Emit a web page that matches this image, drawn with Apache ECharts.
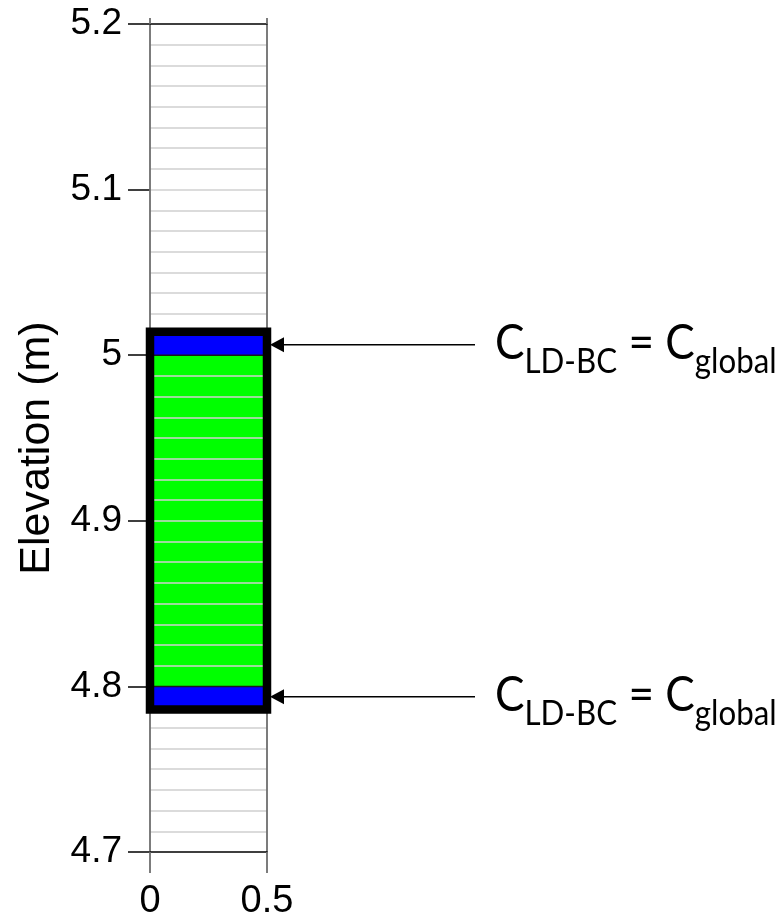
<!DOCTYPE html>
<html>
<head>
<meta charset="utf-8">
<script src="https://cdn.jsdelivr.net/npm/echarts@6/dist/echarts.min.js"></script>
<style>
html,body{margin:0;padding:0;background:#fff;}
#chart{width:781px;height:921px;}
</style>
</head>
<body>
<div id="chart"></div>
<script>
// ---- data ----
const yRange = [4.7, 5.2];
const yMajorStep = 0.1;
const meshPerMajor = 8;            // mesh cells of 0.0125 m
const xTicks = [0, 0.5];
const yAxisName = 'Elevation (m)';
// [x0, x1, yBottom, yTop]
const greenZone = [[0, 0.5, 4.8, 5.0]];
const blueCells = [[0, 0.5, 5.0, 5.0125], [0, 0.5, 4.7875, 4.8]];
const zoneBorder = [[0, 0.5, 4.786, 5.0142]];
// annotation text pieces
const annoMain = 'C';
const annoSubLeft = 'LD-BC';
const annoSubRight = 'global';

const chart = echarts.init(document.getElementById('chart'), null, {renderer: 'canvas'});

function rectRender(fill, stroke, lw) {
  return function (params, api) {
    const p0 = api.coord([api.value(0), api.value(3)]);
    const p1 = api.coord([api.value(1), api.value(2)]);
    return {
      type: 'rect',
      shape: {x: p0[0], y: p0[1], width: p1[0] - p0[0], height: p1[1] - p0[1]},
      style: {fill: fill, stroke: stroke, lineWidth: lw}
    };
  };
}

const option = {
  backgroundColor: '#fff',
  animation: false,
  grid: {left: 150, top: 24, width: 117, height: 833, containLabel: false},
  xAxis: [{
    type: 'value', min: xTicks[0], max: xTicks[xTicks.length - 1],
    interval: xTicks[1] - xTicks[0], z: 3,
    axisLine: {show: true, lineStyle: {color: '#000', width: 1.5}},
    axisTick: {show: true, inside: false, length: 21, lineStyle: {color: '#6e6e6e', width: 1.8}},
    axisLabel: {show: true, margin: 31, fontFamily: 'Liberation Sans', fontSize: 38, color: '#000',
      formatter: v => String(v)},
    splitLine: {show: true, showMinLine: true, showMaxLine: true, lineStyle: {color: '#6e6e6e', width: 1.8}}
  }, {
    type: 'value', position: 'top', min: xTicks[0], max: xTicks[xTicks.length - 1],
    interval: xTicks[1] - xTicks[0], z: 3,
    axisLine: {show: true, onZero: false, lineStyle: {color: '#000', width: 1.5}},
    axisTick: {show: true, inside: false, length: 6, lineStyle: {color: '#6e6e6e', width: 1.8}},
    axisLabel: {show: false}, splitLine: {show: false}
  }],
  yAxis: {
    type: 'value', min: yRange[0], max: yRange[1], interval: yMajorStep, z: 2,
    name: yAxisName, nameLocation: 'middle', nameGap: 91,
    nameTextStyle: {fontFamily: 'Liberation Sans', fontSize: 43, color: '#000', padding: [0, 20, 0, 0]},
    axisLine: {show: false},
    axisTick: {show: true, inside: false, length: 22, lineStyle: {color: '#000', width: 1.5}},
    axisLabel: {show: true, margin: 28, fontFamily: 'Liberation Sans', fontSize: 37, color: '#000',
      formatter: v => String(+v.toFixed(1))},
    splitLine: {show: true, showMinLine: false, showMaxLine: false, lineStyle: {color: '#d0d0d0', width: 1.5}},
    minorTick: {show: false, splitNumber: meshPerMajor},
    minorSplitLine: {show: true, lineStyle: {color: '#d0d0d0', width: 1.5}}
  },
  series: [{
    type: 'custom', name: 'green', z: 1, clip: false,
    renderItem: rectRender('#00ff00', null, 0),
    encode: {x: [0, 1], y: [2, 3]},
    data: greenZone
  }, {
    type: 'custom', name: 'blue', z: 5, clip: false,
    renderItem: rectRender('#0000ff', '#1a1a1a', 1.5),
    encode: {x: [0, 1], y: [2, 3]},
    data: blueCells
  }, {
    type: 'custom', name: 'border', z: 6, clip: false,
    renderItem: rectRender(null, '#000', 8.5),
    encode: {x: [0, 1], y: [2, 3]},
    data: zoneBorder
  }]
};
chart.setOption(option);

// annotations: arrows pointing to the middle of each blue cell
const graphics = [];
blueCells.forEach(function (c) {
  const yMid = (c[2] + c[3]) / 2;
  const p = chart.convertToPixel({gridIndex: 0}, [c[1], yMid]);
  const tipX = p[0] + 3, y = p[1];
  graphics.push({
    type: 'line', z: 10,
    shape: {x1: tipX + 12, y1: y, x2: 475, y2: y},
    style: {stroke: '#000', lineWidth: 1.5}
  });
  graphics.push({
    type: 'polygon', z: 10,
    shape: {points: [[tipX, y], [tipX + 14, y - 7.5], [tipX + 14, y + 7.5]]},
    style: {fill: '#000'}
  });
  graphics.push({
    type: 'text', z: 10, x: 495, y: y - 1, scaleX: 0.92,
    style: {
      text: '{m|' + annoMain + '}{s|' + annoSubLeft + '}{m| = ' + annoMain + '}{s|' + annoSubRight + '}',
      align: 'left', verticalAlign: 'middle',
      rich: {
        m: {fontFamily: 'Lato', fontSize: 48, lineHeight: 70, verticalAlign: 'middle', fill: '#000', color: '#000'},
        s: {fontFamily: 'Lato', fontSize: 34, lineHeight: 34, verticalAlign: 'bottom', fill: '#000', color: '#000'}
      }
    }
  });
});
chart.setOption({graphic: graphics});
</script>
</body>
</html>
